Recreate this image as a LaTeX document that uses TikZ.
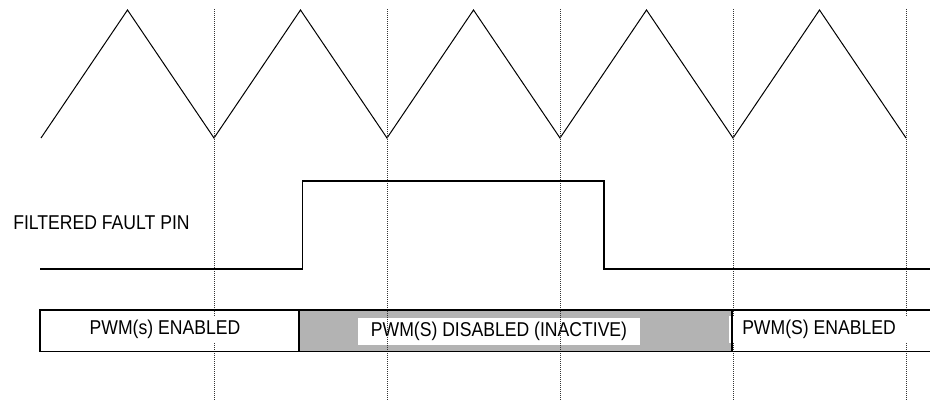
\documentclass[tikz,border=0pt]{standalone}
\usepackage{fontspec}
\setmainfont[FakeStretch=0.88]{Liberation Sans}
\definecolor{tdInk}{HTML}{000000}
\definecolor{tdGrid}{HTML}{333333}
\definecolor{tdShade}{HTML}{B3B3B3}
\tikzset{
  td wave/.style={draw=tdInk, line width=.75pt, line join=miter},
  td signal/.style={draw=tdInk, line width=1.1pt},
  td grid/.style={
    draw=tdGrid,
    line width=.75pt,
    dash pattern=on .75pt off .75pt
  },
  td bar/.style={draw=tdInk, line width=1.1pt},
  td label/.style={font=\fontsize{15}{18}\selectfont, text=tdInk, inner sep=0pt},
  td state/.style={td label, fill=white, inner xsep=10pt, minimum height=20pt}
}

\begin{document}
\begin{tikzpicture}[x=.75pt,y=-.75pt]
  \useasboundingbox (0,0) rectangle (930,404);
  \coordinate (W) at (41,138);

  % carrier
  \draw[td wave] (W) \foreach \k in {0,...,4} { -- ({127.5+173*\k},10) -- ({214+173*\k},138) };

  % disabled state
  \fill[tdShade] (299,310) rectangle (732,351.5);
  \node[td state] (dis) at (499,331.5) {PWM(S) DISABLED (INACTIVE)};

  % sync lines
  \foreach \k in {0,...,4}
    \draw[td grid] ({214+173*\k},9) -- ({214+173*\k},400);

  % fault pin
  \draw[td signal] (40,269) -- (302.5,269) -- (302.5,181) -- (604,181) -- (604,269) -- (930,269);
  \node[td label, anchor=west] (pin) at (13,223) {FILTERED FAULT PIN};

  \node[td state] (en1) at (165,329.5) {PWM(s) ENABLED};
  \node[td state] (en2) at (819,329.5) {PWM(S) ENABLED};

  \draw[td bar] (930,310) -- (40,310) -- (40,351.5) -- (930,351.5);
  \draw[td bar] (299,310) -- (299,351.5) (732,310) -- (732,351.5);
\end{tikzpicture}
\end{document}
